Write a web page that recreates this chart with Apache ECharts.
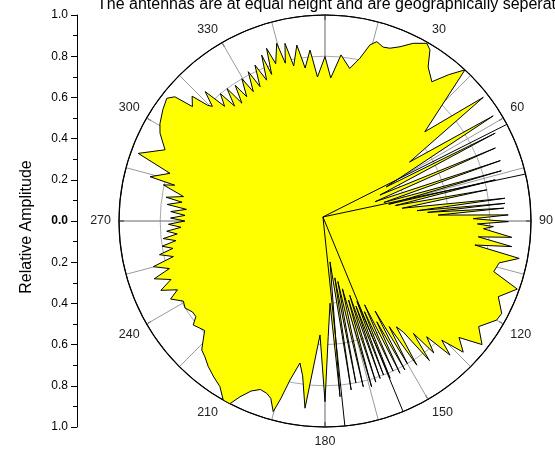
<!DOCTYPE html>
<html>
<head>
<meta charset="utf-8">
<script src="https://cdn.jsdelivr.net/npm/echarts@6.0.0/dist/echarts.min.js"></script>
<style>
html,body{margin:0;padding:0;background:#fff;}
#main{width:555px;height:459px;}
</style>
</head>
<body>
<div id="main"></div>
<script>
// antenna pattern, polar
let chart = echarts.init(document.getElementById('main'))
let font = 'Liberation Sans, Arial, sans-serif'

// yellow pattern outline: angle (deg, clockwise from top) / relative amplitude
let ampAngle = [0, 2.3, 5.5, 9.2, 12.1, 14.3, 16.1, 18.5, 20.6, 23.3, 26.4, 29.8, 31.5, 33.8, 37.5, 40.2, 42.8,
    48.2, 52, 55.1, 58, 60.9, 62.7, 64.7, 66.8, 68.9, 71, 72.5, 74.1, 75.3, 76.4, 77.6, 79.1, 80.6, 82.8, 83.6,
    84.4, 85.2, 85.9, 87, 88.1, 89.1, 90.2, 91.1, 91.9, 92.8, 95, 95.9, 97.8, 99.1, 100.9, 103.5, 106.7, 109.5,
    113.6, 117.6, 120, 124.5, 128.2, 131, 133.5, 135.6, 137, 138.7, 140.5, 141.8, 143.2, 144.8, 146, 147.5,
    148.7, 150, 150.9, 151.8, 152.8, 153.8, 154.7, 155.6, 156.5, 157.5, 158.3, 159.2, 160, 160.7, 161.6, 162.5,
    163.4, 164.3, 165.6, 167, 168, 169.2, 170.2, 171.2, 173, 175.1, 176.5, 178.4, 180, 182.5, 186.1, 188.2, 190,
    192.4, 194, 195.2, 197, 198.7, 201, 203.5, 205.8, 207.5, 209.6, 212.4, 215.5, 218.7, 221.5, 223.7, 225.5,
    227.7, 229.5, 231.7, 233.5, 235.5, 238.1, 240.5, 243.2, 245, 247.1, 249.2, 251.3, 253, 255.1, 256.8, 258.5,
    259.8, 261.2, 262.5, 263.8, 265, 266.3, 267.5, 268.8, 270, 271.1, 272.3, 273.5, 274.8, 276, 277.5, 278.5,
    279.8, 282.6, 283.4, 284.2, 287.1, 289.9, 294, 298, 300.5, 304.5, 307.8, 309.6, 310.8, 313.2, 314.6, 315.5,
    317.2, 318.8, 320.6, 321.8, 323.5, 324.8, 326.5, 327.8, 329.7, 331, 332.8, 334.2, 335.8, 337.5, 339.1, 340,
    341.3, 342.6, 344.8, 345.9, 347.3, 348.6, 350.9, 352.6, 355, 357, 360]
let ampRadius = [0.798, 0.695, 0.81, 0.75, 0.808, 0.882, 0.906, 0.89, 0.896, 0.921, 0.963, 0.994, 0.975, 0.9, 0.852, 0.93, 1.0,
    0.65, 0.975, 0.5, 0.963, 0.34, 0.93, 0.295, 0.9, 0.26, 0.9, 0.3, 0.89, 0.32, 0.85, 0.35, 0.8, 0.38, 0.88, 0.45,
    0.878, 0.5, 0.87, 0.55, 0.89, 0.72, 0.89, 0.74, 0.818, 0.77, 0.91, 0.748, 0.915, 0.737, 0.96, 0.87, 0.855, 0.99,
    0.918, 0.968, 0.962, 0.905, 0.97, 0.862, 0.925, 0.81, 0.89, 0.748, 0.83, 0.694, 0.846, 0.66, 0.62, 0.83,
    0.6, 0.8, 0.5, 0.82, 0.55, 0.824, 0.45, 0.8, 0.48, 0.826, 0.42, 0.8, 0.44, 0.81, 0.38, 0.82,
    0.4, 0.836, 0.34, 0.826, 0.3, 0.8, 0.28, 0.83, 0.2, 0.856, 0.4, 0.56, 0.877, 0.554, 0.914, 0.76, 0.7,
    0.79, 0.89, 0.959, 0.9, 0.883, 0.876, 0.9, 0.948, 1.0, 1.0, 0.952, 0.93, 0.906, 0.88, 0.866, 0.83,
    0.79, 0.8, 0.815, 0.78, 0.78, 0.8, 0.79, 0.84, 0.79, 0.865, 0.8, 0.875, 0.79, 0.862, 0.756, 0.82,
    0.75, 0.8, 0.73, 0.79, 0.72, 0.77, 0.7, 0.76, 0.68, 0.75, 0.68, 0.75, 0.675, 0.77, 0.7, 0.78,
    0.697, 0.804, 0.75, 0.876, 0.787, 0.964, 0.85, 0.907, 0.93, 0.955, 0.972, 0.946, 0.85, 0.885, 0.8, 0.78,
    0.856, 0.74, 0.8, 0.71, 0.8, 0.7, 0.79, 0.713, 0.8, 0.718, 0.815, 0.724, 0.83, 0.74, 0.862, 0.757,
    0.885, 0.8, 0.894, 0.79, 0.884, 0.768, 0.865, 0.749, 0.833, 0.7, 0.798]

// the two sector frames
let boxAngle = [333, 62.2, 77, 333, 157.7, 174.4, 333]
let boxRadius = [0.022, 1.17, 1.17, 0.022, 1.15, 1.157, 0.022]

// left amplitude scale
let ampMin = -1, ampMax = 1, ampStep = 0.2
// angle labels every 30 deg
let angleStep = 30

option = {
    animation: false,
    title: {
        text: 'The antennas are at equal height and are geographically seperated',
        left: 97,
        top: -3,
        padding: 0,
        textStyle: {fontFamily: font, fontSize: 16, fontWeight: 'normal', color: '#000'}
    },
    grid: {left: 77, top: 15, width: 1, bottom: 32},
    xAxis: {type: 'value', show: false, min: 0, max: 1},
    yAxis: {
        type: 'value',
        min: ampMin,
        max: ampMax,
        interval: ampStep,
        name: 'Relative Amplitude',
        nameLocation: 'middle',
        nameGap: 42,
        nameTextStyle: {fontFamily: font, fontSize: 16, color: '#000', padding: [0, 12, 0, 0]},
        axisLine: {show: true, lineStyle: {color: '#000', width: 1}},
        axisTick: {show: true, length: 6, lineStyle: {color: '#000'}},
        minorTick: {show: true, splitNumber: 2, length: 4, lineStyle: {color: '#000'}},
        splitLine: {show: false},
        axisLabel: {
            margin: 9,
            fontFamily: font,
            fontSize: 12,
            color: '#000',
            formatter: function (v) {
                return Math.abs(v) < 1e-6 ? '{b|0.0}' : Math.abs(v).toFixed(1)
            },
            rich: {b: {fontFamily: font, fontSize: 12, fontWeight: 'bold', color: '#000'}}
        }
    },
    polar: {center: [325, 221], radius: 206},
    angleAxis: {
        type: 'value',
        min: 0,
        max: 360,
        interval: angleStep,
        startAngle: 90,
        clockwise: true,
        axisLine: {lineStyle: {color: '#000', width: 1.2}},
        axisTick: {show: true, inside: true, length: 5, lineStyle: {color: '#000'}},
        axisLabel: {
            margin: 8,
            fontFamily: font,
            fontSize: 12.5,
            color: '#222',
            formatter: function (v) { return (v === 0 || v === 360) ? '' : v }
        },
        splitLine: {show: true, lineStyle: {color: ['#666', '#999', '#999'], width: 1}},
        minorTick: {show: false, splitNumber: 2},
        minorSplitLine: {show: true, lineStyle: {color: '#999', width: 1}}
    },
    radiusAxis: {
        type: 'value',
        min: 0,
        max: 1,
        interval: 0.2,
        axisLine: {show: false},
        axisTick: {show: false},
        axisLabel: {show: false},
        splitLine: {show: true, lineStyle: {color: ['#aaa', '#aaa', '#aaa', '#aaa', '#aaa', '#000'], width: 1}}
    },
    series: [
        {
            type: 'line',
            coordinateSystem: 'polar',
            symbol: 'none',
            data: ampRadius.map((r, i) => [r, ampAngle[i]]),
            lineStyle: {color: '#000', width: 1},
            areaStyle: {color: '#ffff00', opacity: 1},
            z: 2
        },
        {
            type: 'line',
            coordinateSystem: 'polar',
            symbol: 'none',
            clip: false,
            data: boxRadius.map((r, i) => [r, boxAngle[i]]),
            lineStyle: {color: '#000', width: 1},
            z: 3
        }
    ]
}

chart.setOption(option)
</script>
</body>
</html>
